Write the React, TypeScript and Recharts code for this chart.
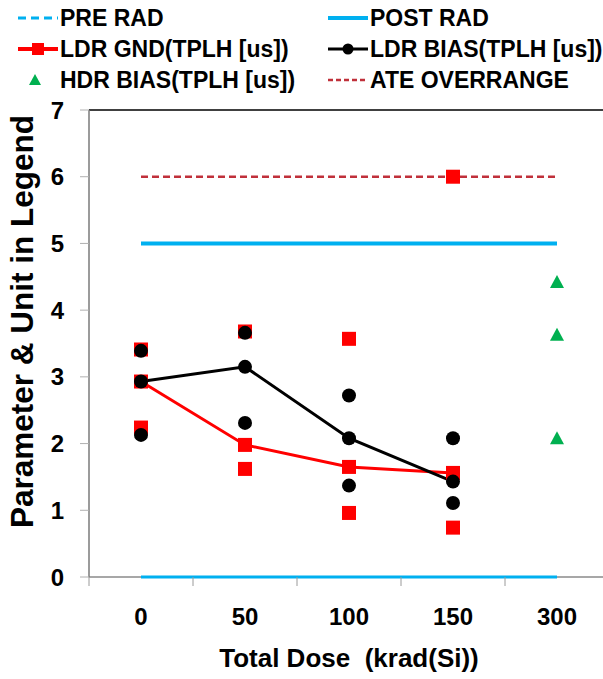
import React from 'react';
import { ComposedChart, Line, XAxis, YAxis, ReferenceLine, Label } from 'recharts';

const doses = ['0', '50', '100', '150', '300'];
const preRad = [0, 0, 0, 0, 0];
const postRad = [5, 5, 5, 5, 5];
const ateOverrange = [6, 6, 6, 6, 6];
const ldrGndMid = [2.93, 1.98, 1.65, 1.56, null];
const ldrGndHigh = [3.41, 3.68, 3.57, 6.0, null];
const ldrGndLow = [2.24, 1.62, 0.96, 0.74, null];
const ldrBiasMid = [2.93, 3.15, 2.08, 1.43, null];
const ldrBiasHigh = [3.39, 3.66, 2.72, 2.08, null];
const ldrBiasLow = [2.13, 2.31, 1.37, 1.11, null];
const hdrBiasA = [null, null, null, null, 4.42];
const hdrBiasB = [null, null, null, null, 3.63];
const hdrBiasC = [null, null, null, null, 2.08];

// category centres get labels, the half steps between them get tick marks
const xTicks = [-0.5, 0, 0.5, 1, 1.5, 2, 2.5, 3, 3.5, 4, 4.5];

const data = doses.map((dose, i) => ({
  x: i,
  dose,
  pre: preRad[i],
  post: postRad[i],
  ate: ateOverrange[i],
  gndMid: ldrGndMid[i],
  gndHigh: ldrGndHigh[i],
  gndLow: ldrGndLow[i],
  biasMid: ldrBiasMid[i],
  biasHigh: ldrBiasHigh[i],
  biasLow: ldrBiasLow[i],
  hdrA: hdrBiasA[i],
  hdrB: hdrBiasB[i],
  hdrC: hdrBiasC[i],
}));

const FONT = "'Liberation Sans', Arial, sans-serif";
const RED = '#ff0000';
const BLUE = '#00b0f0';
const GREEN = '#00b050';
const DARKRED = '#c0303a';
const X_TICK_MARGIN = 31;

const Square = (props: any) => {
  const { cx, cy, key } = props;
  if (cx == null || cy == null || props.value == null) return <g key={key} />;
  return <rect key={key} x={cx - 7} y={cy - 7} width={14} height={14} fill={RED} />;
};

const Dot = (props: any) => {
  const { cx, cy, key } = props;
  if (cx == null || cy == null || props.value == null) return <g key={key} />;
  return <circle key={key} cx={cx} cy={cy} r={7} fill="#000" />;
};

const Tri = (props: any) => {
  const { cx, cy, key } = props;
  if (cx == null || cy == null || props.value == null) return <g key={key} />;
  return <polygon key={key} points={`${cx},${cy - 7} ${cx + 7},${cy + 6} ${cx - 7},${cy + 6}`} fill={GREEN} />;
};

const DoseTick = (props: any) => {
  const { x, y, payload } = props;
  const v = payload.value;
  if (Number.isInteger(v)) {
    return (
      <text x={x} y={y} dy="0.71em" textAnchor="middle" fontSize={24} fontWeight="bold" fill="#000" fontFamily={FONT}>
        {doses[v]}
      </text>
    );
  }
  const axisY = y - X_TICK_MARGIN;
  return <line x1={x} y1={axisY} x2={x} y2={axisY + 9} stroke="#9a9a9a" strokeWidth={1} />;
};

const legendItems = [
  { label: 'PRE RAD', left: 18, row: 0, icon: <line x1={0} y1={13} x2={40} y2={13} stroke={BLUE} strokeWidth={3} strokeDasharray="8 5" /> },
  { label: 'POST RAD', left: 328, row: 0, icon: <line x1={0} y1={13} x2={40} y2={13} stroke={BLUE} strokeWidth={4} /> },
  {
    label: 'LDR GND(TPLH [us])', left: 18, row: 1, icon: (
      <g>
        <line x1={0} y1={13} x2={40} y2={13} stroke={RED} strokeWidth={4} />
        <rect x={14} y={7} width={12} height={12} fill={RED} />
      </g>
    ),
  },
  {
    label: 'LDR BIAS(TPLH [us])', left: 328, row: 1, icon: (
      <g>
        <line x1={0} y1={13} x2={40} y2={13} stroke="#000" strokeWidth={3} />
        <circle cx={20} cy={13} r={5.5} fill="#000" />
      </g>
    ),
  },
  { label: 'HDR BIAS(TPLH [us])', left: 18, row: 2, icon: <polygon points="17,7 23,18 11,18" fill={GREEN} /> },
  { label: 'ATE OVERRANGE', left: 328, row: 2, icon: <line x1={0} y1={13} x2={40} y2={13} stroke={DARKRED} strokeWidth={2.5} strokeDasharray="5 3" /> },
];
const rowCenters = [18, 49, 80];

export default function App() {
  return (
    <div style={{ position: 'absolute', left: 0, top: 0, width: 603, height: 679, overflow: 'hidden', background: '#fff', fontFamily: FONT }}>
      {legendItems.map((it) => (
        <div
          key={it.label}
          style={{ position: 'absolute', left: it.left, top: rowCenters[it.row] - 13, height: 26, display: 'flex', alignItems: 'center', whiteSpace: 'nowrap' }}
        >
          <svg width={40} height={26} style={{ display: 'block' }}>{it.icon}</svg>
          <span style={{ marginLeft: 2, fontSize: 23, fontWeight: 'bold', color: '#000', lineHeight: '26px' }}>{it.label}</span>
        </div>
      ))}
      <ComposedChart width={609} height={679} data={data} margin={{ top: 110, right: 0, bottom: 0, left: 0 }}>
        <XAxis
          type="number"
          dataKey="x"
          domain={[-0.5, 4.5]}
          ticks={xTicks}
          interval={0}
          tick={DoseTick}
          tickLine={false}
          tickSize={0}
          tickMargin={X_TICK_MARGIN}
          axisLine={{ stroke: '#8a8a8a', strokeWidth: 1.5 }}
          height={102}
          allowDataOverflow
        >
          <Label
            content={(props: any) => {
              const vb = props.viewBox;
              return (
                <text x={vb.x + vb.width / 2} y={vb.y + vb.height - 12} textAnchor="middle" fontSize={26} fontWeight="bold" fill="#000" fontFamily={FONT}>
                  {'Total Dose\u00a0 (krad(Si))'}
                </text>
              );
            }}
          />
        </XAxis>
        <YAxis
          type="number"
          domain={[0, 7]}
          ticks={[0, 1, 2, 3, 4, 5, 6, 7]}
          width={89}
          tickSize={9}
          tickMargin={16}
          axisLine={{ stroke: '#7a7a7a', strokeWidth: 1.5 }}
          tickLine={{ stroke: '#b0b0b0' }}
          tick={{ fontSize: 24, fontWeight: 'bold', fill: '#000', fontFamily: FONT }}
        >
          <Label
            content={(props: any) => {
              const vb = props.viewBox;
              const cx = vb.x + 22;
              const cy = vb.y + vb.height / 2 - 22;
              return (
                <text x={cx} y={cy} dy="0.36em" transform={`rotate(-90 ${cx} ${cy})`} textAnchor="middle" fontSize={31.5} fontWeight="bold" fill="#000" fontFamily={FONT}>
                  Parameter &amp; Unit in Legend
                </text>
              );
            }}
          />
        </YAxis>
        <ReferenceLine y={7} stroke="#000" strokeWidth={1.5} />
        <Line dataKey="pre" stroke={BLUE} strokeWidth={3} dot={false} isAnimationActive={false} zIndex={650} />
        <Line dataKey="post" stroke={BLUE} strokeWidth={4} dot={false} isAnimationActive={false} />
        <Line dataKey="ate" stroke={DARKRED} strokeWidth={2.5} strokeDasharray="7 4" dot={false} isAnimationActive={false} />
        <Line dataKey="gndMid" stroke={RED} strokeWidth={3} dot={Square} isAnimationActive={false} />
        <Line dataKey="gndHigh" stroke="none" dot={Square} isAnimationActive={false} />
        <Line dataKey="gndLow" stroke="none" dot={Square} isAnimationActive={false} />
        <Line dataKey="biasMid" stroke="#000" strokeWidth={3} dot={Dot} isAnimationActive={false} />
        <Line dataKey="biasHigh" stroke="none" dot={Dot} isAnimationActive={false} />
        <Line dataKey="biasLow" stroke="none" dot={Dot} isAnimationActive={false} />
        <Line dataKey="hdrA" stroke="none" dot={Tri} isAnimationActive={false} />
        <Line dataKey="hdrB" stroke="none" dot={Tri} isAnimationActive={false} />
        <Line dataKey="hdrC" stroke="none" dot={Tri} isAnimationActive={false} />
      </ComposedChart>
    </div>
  );
}
